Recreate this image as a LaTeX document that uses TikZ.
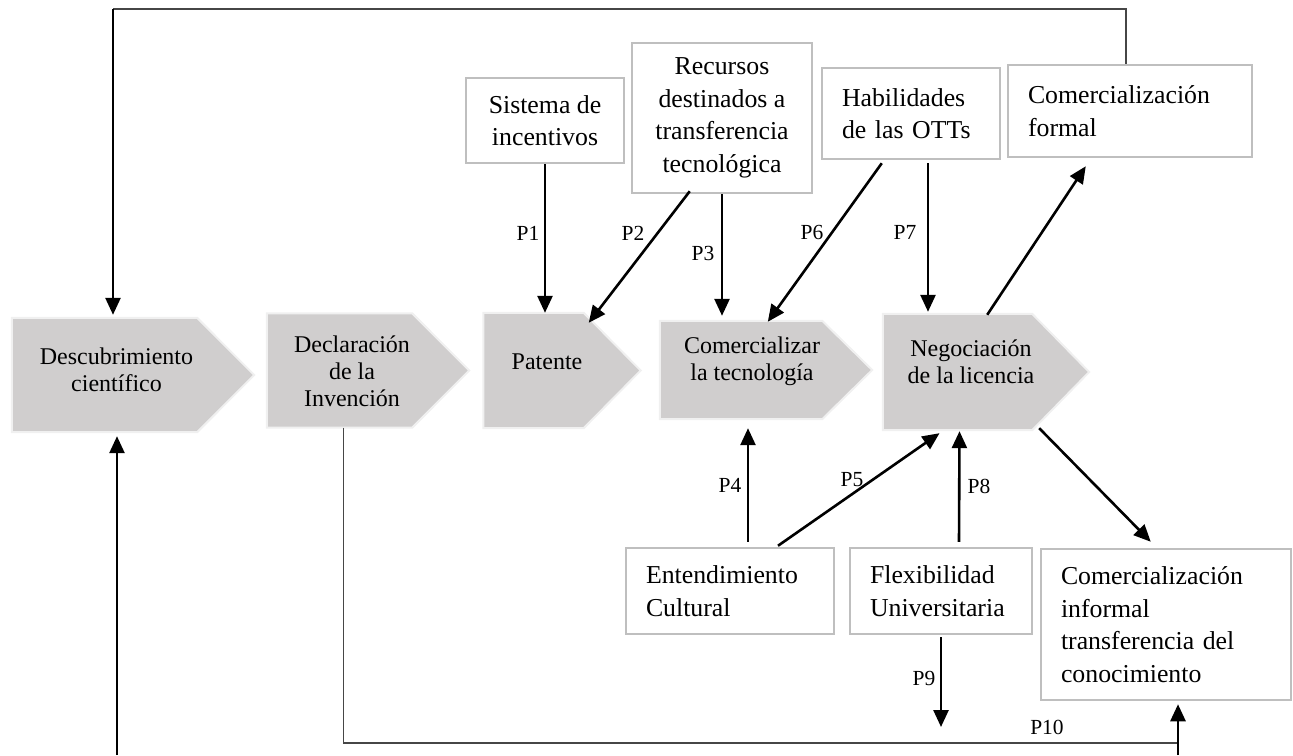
\documentclass[tikz,border=0pt]{standalone}
\usepackage{fontspec}
\setmainfont{Liberation Serif}
\usetikzlibrary{arrows.meta,calc}
\definecolor{boxgray}{RGB}{191,191,191}
\definecolor{chevgray}{RGB}{208,206,206}
\definecolor{chevedge}{RGB}{240,240,240}
\definecolor{thingray}{RGB}{70,70,70}
\begin{document}
\begin{tikzpicture}[x=1pt,y=-1pt,
  box/.style={draw=boxgray, line width=2.5pt, fill=white, inner sep=0pt,
    font=\fontsize{25.8}{32.5}\selectfont},
  lbox/.style={box, align=left, inner xsep=20pt},
  cbox/.style={box, align=center},
  chev/.style={inner sep=0pt},
  chevshape/.style={fill=chevgray, draw=chevedge, line width=2pt},
  ctext/.style={font=\fontsize{24}{27}\selectfont, align=center, inner sep=0pt},
  plabel/.style={font=\fontsize{21.5}{24}\selectfont, inner sep=0pt},
  arr/.style={line width=2.6pt, -{Triangle[length=17pt,width=15pt]}},
  thinline/.style={draw=thingray, line width=1.3pt},
]
\useasboundingbox (0,0) rectangle (1293,755);

% ---------- chevrons ----------
\node[chev, minimum width=185pt, minimum height=114pt] (desc) at (104.5,375) {};
\node[chev, minimum width=145pt, minimum height=114pt] (decl) at (339.5,370.5) {};
\node[chev, minimum width=100pt, minimum height=115pt] (pat) at (533.5,370.5) {};
\node[chev, minimum width=162pt, minimum height=98pt] (com) at (741,370) {};
\node[chev, minimum width=149pt, minimum height=116pt] (neg) at (957.5,372) {};

\path[chevshape] (desc.north west) -- (desc.north east) -- ($(desc.east)+(57,0)$) -- (desc.south east) -- (desc.south west) -- cycle;
\path[chevshape] (decl.north west) -- (decl.north east) -- ($(decl.east)+(57,0)$) -- (decl.south east) -- (decl.south west) -- cycle;
\path[chevshape] (pat.north west) -- (pat.north east) -- ($(pat.east)+(57,0)$) -- (pat.south east) -- (pat.south west) -- cycle;
\path[chevshape] (com.north west) -- (com.north east) -- ($(com.east)+(50,0)$) -- (com.south east) -- (com.south west) -- cycle;
\path[chevshape] (neg.north west) -- (neg.north east) -- ($(neg.east)+(57,0)$) -- (neg.south east) -- (neg.south west) -- cycle;

\node[ctext] (desct) at (116.5,369.5) {Descubrimiento\\científico};
\node[ctext] (declt) at (352,371) {Declaración\\de la\\Invención};
\node[ctext] (patt) at (547,362) {Patente};
\node[ctext] (comt) at (752,361) {Comercializar\\la tecnología};
\node[ctext] (negt) at (971,362) {Negociación\\de la licencia};

% ---------- boxes ----------
\node[cbox, minimum width=158pt, minimum height=85pt] (sis) at (545,120.5) {Sistema de\\incentivos};
\node[cbox, minimum width=180pt, minimum height=150pt] (rec) at (722,118) {Recursos\\destinados a\\transferencia\\tecnológica};
\node[lbox, text width=138pt, minimum height=91pt] (hab) at (911,113.5) {Habilidades\\de las OTTs};
\node[lbox, text width=204pt, minimum height=92pt] (cf) at (1130,111) {Comercialización\\formal};
\node[lbox, text width=168pt, minimum height=86pt] (ent) at (730,591) {Entendimiento\\Cultural};
\node[lbox, text width=142pt, minimum height=86pt] (flex) at (941,591) {Flexibilidad\\Universitaria};
\node[lbox, text width=210pt, minimum height=151pt] (ci) at (1166,624.5) {Comercialización\\informal\\transferencia del\\conocimiento};

% ---------- free ends ----------
\coordinate (bl) at (117,755);
\coordinate (br) at (1178,755);
\coordinate (p9end) at (941,727);
\coordinate (toprow) at (113,9);
\coordinate (botrow) at (1178,743);

% ---------- connectors ----------
\draw[arr] (sis.south) -- ($(sis.south |- pat.north)$);
\draw[arr] ($(rec.south west)+(59,-3)$) -- ($(pat.north east)+(5,10)$);
\draw[arr] (rec.south) -- ($(rec.south |- com.north)+(0,-5)$);
\draw[arr] ($(hab.south west)+(61,3)$) -- ($(com.north west)+(108,1)$);
\draw[arr] ($(hab.south)+(17,3)$) -- ($(hab.south |- neg.north)+(17,-2)$);
\draw[arr] ($(neg.north east)+(-45,1)$) -- ($(cf.south west)+(79,8)$);
\draw[arr] ($(ent.north)+(18,-5)$) -- ($(ent.north |- com.south)+(18,9)$);
\draw[arr] ($(ent.north)+(48,-1)$) -- ($(neg.south)+(-18,3)$);
\draw[arr] ($(flex.north)+(18,-5)$) -- ($(neg.south)+(2,1)$);
\draw[arr] ($(flex.south)+(0,2)$) -- (p9end);
\draw[arr] ($(neg.south east)+(7,-2)$) -- ($(ci.north west)+(111,-6)$);

% feedback loops
\draw[thinline] ($(cf.north)+(-4,0)$) |- (toprow);
\draw[arr] (toprow) -- ($(desc.north)+(8.5,-3)$);
\draw[thinline] ($(decl.south)+(4,0)$) |- (botrow);
\draw[arr] (br) -- ($(ci.south)+(12,3)$);
\draw[arr] (bl) -- ($(desc.south)+(12.5,4)$);

% ---------- labels ----------
\node[plabel] (l1) at (528,233) {P1};
\node[plabel] (l2) at (633,233) {P2};
\node[plabel] (l3) at (703,253) {P3};
\node[plabel] (l6) at (812,232) {P6};
\node[plabel] (l7) at (905,232) {P7};
\node[plabel] (l4) at (730,485) {P4};
\node[plabel] (l5) at (852,480) {P5};
\node[plabel] (l8) at (979,486) {P8};
\node[plabel] (l9) at (924,678) {P9};
\node[plabel] (l10) at (1047,727) {P10};
\end{tikzpicture}
\end{document}
